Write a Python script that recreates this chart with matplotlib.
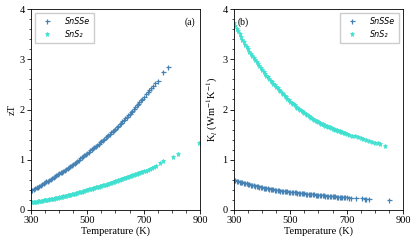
import matplotlib
matplotlib.use("Agg")
import matplotlib.pyplot as plt
from matplotlib.ticker import FixedLocator, MultipleLocator

plt.rcParams['font.family'] = ['Liberation Serif', 'DejaVu Serif']
plt.rcParams['mathtext.fontset'] = 'stix'

# shared temperature grid (K) for the dense part of every curve, 300-700 K
temp_grid = [300, 305, 310, 315, 320, 325, 330, 335, 340, 345,
             350, 355, 360, 365, 370, 375, 380, 385, 390, 395,
             400, 405, 410, 415, 420, 425, 430, 435, 440, 445,
             450, 455, 460, 465, 470, 475, 480, 485, 490, 495,
             500, 505, 510, 515, 520, 525, 530, 535, 540, 545,
             550, 555, 560, 565, 570, 575, 580, 585, 590, 595,
             600, 605, 610, 615, 620, 625, 630, 635, 640, 645,
             650, 655, 660, 665, 670, 675, 680, 685, 690, 695,
             700]
x_ticks = [300, 500, 700, 900]

# (a) zT
zt_snsse = [0.39, 0.405, 0.42, 0.435, 0.45, 0.465, 0.48, 0.497, 0.515, 0.532,
            0.55, 0.567, 0.585, 0.602, 0.62, 0.637, 0.655, 0.672, 0.69, 0.71,
            0.73, 0.747, 0.765, 0.782, 0.80, 0.82, 0.84, 0.86, 0.88, 0.90,
            0.92, 0.94, 0.96, 0.98, 1.00, 1.025, 1.05, 1.072, 1.095, 1.117,
            1.14, 1.162, 1.185, 1.207, 1.23, 1.252, 1.275, 1.297, 1.32, 1.345,
            1.37, 1.395, 1.42, 1.445, 1.47, 1.495, 1.52, 1.545, 1.57, 1.595,
            1.62, 1.65, 1.68, 1.71, 1.74, 1.77, 1.80, 1.83, 1.86, 1.89,
            1.92, 1.95, 1.98, 2.015, 2.05, 2.08, 2.11, 2.145, 2.18, 2.215,
            2.25]
zt_snsse_tail_t = [708, 715, 720, 725, 735, 742, 750, 770, 787]
zt_snsse_tail = [2.30, 2.35, 2.38, 2.42, 2.47, 2.52, 2.57, 2.74, 2.85]

zt_sns2 = [0.15, 0.154, 0.158, 0.162, 0.166, 0.170, 0.175, 0.179, 0.184, 0.189,
           0.194, 0.199, 0.204, 0.209, 0.214, 0.220, 0.226, 0.232, 0.238, 0.244,
           0.25, 0.256, 0.263, 0.270, 0.277, 0.284, 0.291, 0.298, 0.305, 0.312,
           0.32, 0.327, 0.335, 0.342, 0.35, 0.358, 0.366, 0.374, 0.383, 0.391,
           0.40, 0.408, 0.416, 0.424, 0.432, 0.44, 0.448, 0.456, 0.465, 0.473,
           0.482, 0.49, 0.499, 0.507, 0.516, 0.525, 0.534, 0.543, 0.552, 0.561,
           0.57, 0.58, 0.589, 0.598, 0.608, 0.617, 0.627, 0.637, 0.647, 0.657,
           0.667, 0.677, 0.687, 0.697, 0.708, 0.718, 0.728, 0.738, 0.749, 0.759,
           0.77]
zt_sns2_tail_t = [708, 715, 722, 730, 738, 745, 760, 770, 805, 822, 898]
zt_sns2_tail = [0.785, 0.80, 0.82, 0.84, 0.86, 0.88, 0.93, 0.97, 1.06, 1.11, 1.34]

# (b) lattice thermal conductivity
kl_sns2 = [3.72, 3.665, 3.61, 3.555, 3.50, 3.445, 3.39, 3.34, 3.29, 3.245,
           3.20, 3.155, 3.11, 3.065, 3.02, 2.98, 2.94, 2.90, 2.86, 2.82,
           2.78, 2.745, 2.71, 2.675, 2.64, 2.605, 2.57, 2.54, 2.51, 2.48,
           2.45, 2.42, 2.39, 2.36, 2.33, 2.30, 2.27, 2.24, 2.21, 2.18,
           2.15, 2.125, 2.10, 2.08, 2.06, 2.035, 2.01, 1.99, 1.97, 1.95,
           1.93, 1.91, 1.89, 1.87, 1.85, 1.835, 1.82, 1.80, 1.78, 1.765,
           1.75, 1.735, 1.72, 1.705, 1.69, 1.68, 1.67, 1.657, 1.645, 1.632,
           1.62, 1.61, 1.60, 1.59, 1.58, 1.57, 1.56, 1.55, 1.54, 1.53,
           1.52]
kl_sns2_tail_t = [710, 720, 730, 740, 750, 760, 770, 780, 790, 800, 810, 820, 835]
kl_sns2_tail = [1.50, 1.48, 1.465, 1.45, 1.43, 1.41, 1.395, 1.38, 1.36, 1.34,
                1.325, 1.31, 1.28]

kl_snsse = [0.60, 0.59, 0.58, 0.572, 0.565, 0.557, 0.55, 0.542, 0.535, 0.527,
            0.52, 0.512, 0.505, 0.497, 0.49, 0.482, 0.475, 0.468, 0.462, 0.456,
            0.45, 0.445, 0.44, 0.435, 0.43, 0.425, 0.42, 0.415, 0.41, 0.405,
            0.40, 0.395, 0.39, 0.386, 0.383, 0.379, 0.375, 0.371, 0.368, 0.364,
            0.36, 0.357, 0.354, 0.351, 0.348, 0.345, 0.342, 0.339, 0.336, 0.333,
            0.33, 0.327, 0.324, 0.321, 0.318, 0.315, 0.312, 0.309, 0.306, 0.303,
            0.30, 0.297, 0.295, 0.292, 0.29, 0.287, 0.285, 0.282, 0.28, 0.277,
            0.275, 0.272, 0.27, 0.267, 0.265, 0.262, 0.26, 0.257, 0.255, 0.252,
            0.25]
kl_snsse_tail_t = [710, 715, 735, 755, 765, 770, 780, 850]
kl_snsse_tail = [0.247, 0.245, 0.235, 0.23, 0.227, 0.225, 0.22, 0.20]

c_snsse = '#4682b4'
c_sns2 = '#40e0d0'

fig = plt.figure(figsize=(4.16, 2.45), dpi=100)
ax1 = fig.add_axes([0.0745, 0.143, 0.406, 0.82])
ax2 = fig.add_axes([0.5625, 0.143, 0.406, 0.82])

leg_prop = {'family': 'DejaVu Sans', 'style': 'italic', 'size': 5.8}


def draw(ax, t1, y1, t1b, y1b, t2, y2, t2b, y2b):
    ax.plot(t1 + t1b, y1 + y1b, linestyle='none', marker='+', ms=3.6, mew=0.9,
            color=c_snsse, label='SnSSe')
    ax.plot(t2 + t2b, y2 + y2b, linestyle='none', marker='*', ms=3.6, mew=0.5,
            color=c_sns2, label='SnS\u2082')
    ax.set_xlim(300, 900)
    ax.set_ylim(0, 4)
    ax.xaxis.set_major_locator(FixedLocator(x_ticks))
    ax.xaxis.set_minor_locator(MultipleLocator(50))
    ax.yaxis.set_major_locator(MultipleLocator(1))
    ax.yaxis.set_minor_locator(MultipleLocator(0.2))
    ax.tick_params(labelsize=7.5, length=3, width=0.6, pad=1.5)
    ax.tick_params(which='minor', length=1.8, width=0.5)
    for s in ax.spines.values():
        s.set_linewidth(0.6)
    ax.set_xlabel('Temperature (K)', fontsize=7.5, labelpad=1)


draw(ax1, temp_grid, zt_snsse, zt_snsse_tail_t, zt_snsse_tail,
     temp_grid, zt_sns2, zt_sns2_tail_t, zt_sns2_tail)
ax1.set_ylabel('zT', fontsize=7.5, labelpad=2)
ax1.text(0.97, 0.96, '(a)', transform=ax1.transAxes, ha='right', va='top', fontsize=7)
ax1.legend(loc='upper left', prop=leg_prop, fancybox=False, edgecolor='#cccccc',
           handletextpad=1.2, borderpad=0.5, framealpha=1, markerscale=1.0)

draw(ax2, temp_grid, kl_snsse, kl_snsse_tail_t, kl_snsse_tail,
     temp_grid, kl_sns2, kl_sns2_tail_t, kl_sns2_tail)
ax2.set_ylabel('K$_l$ (Wm$^{-1}$K$^{-1}$)', fontsize=7.5, labelpad=2)
ax2.text(0.02, 0.96, '(b)', transform=ax2.transAxes, ha='left', va='top', fontsize=7)
ax2.legend(loc='upper right', prop=leg_prop, fancybox=False, edgecolor='#cccccc',
           handletextpad=1.2, borderpad=0.5, framealpha=1, markerscale=1.0)

fig.savefig('out.png', dpi=100)
